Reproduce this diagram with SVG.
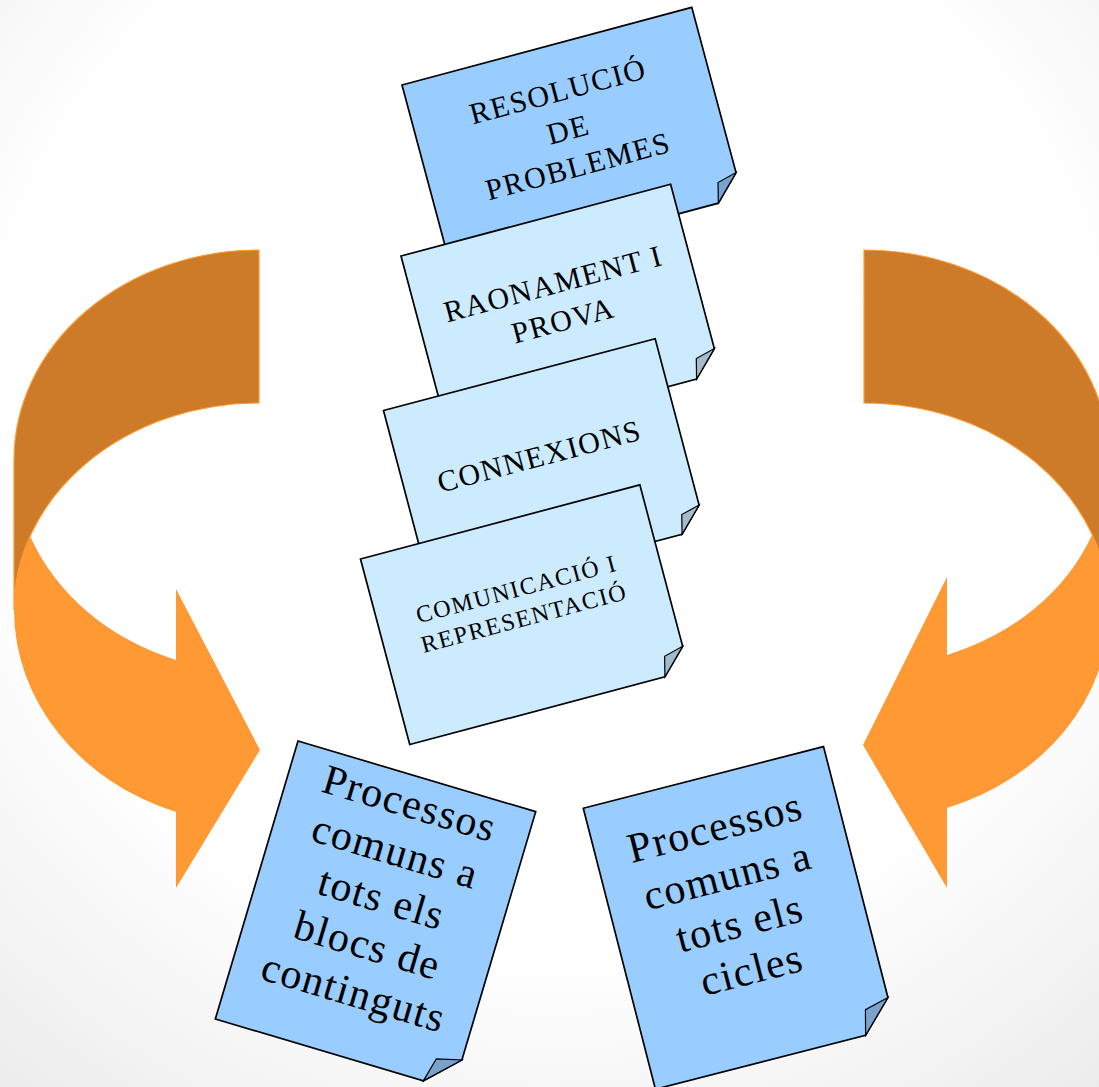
<svg xmlns="http://www.w3.org/2000/svg" width="1099" height="1087" viewBox="0 0 1099 1087">
  <defs>
    <radialGradient id="bg" cx="50%" cy="38%" r="80%">
      <stop offset="0.62" stop-color="#FFFFFF"/>
      <stop offset="1" stop-color="#ECECEC"/>
    </radialGradient>
  </defs>
  <style>
    .page { stroke: #000; stroke-width: 1.7; stroke-linejoin: miter; }
    .blue { fill: #99CCFF; }
    .pale { fill: #CCEBFF; }
    .foldBlue { fill: #7AA3CC; stroke: #000; stroke-width: 1.2; }
    .foldPale { fill: #A3BCCC; stroke: #000; stroke-width: 1.2; }
    .t { font-family: "Liberation Serif", serif; fill: #000; text-anchor: middle; }
    .caps { font-size: 30px; letter-spacing: 1.5px; }
    .small { font-size: 24px; letter-spacing: 1.6px; }
    .big { font-size: 42px; letter-spacing: 1.5px; }
    .back { fill: #CD7B29; stroke: #FF9933; stroke-width: 1.2; }
    .front { fill: #FF9933; }
  </style>
  <rect x="0" y="0" width="1099" height="1087" fill="url(#bg)"/>

  <g id="connectors">
    <g id="arrow-left">
      <path class="back" d="M259,250 A245,210 0 0 0 14,460 L14,610 A245,207 0 0 1 259,403 Z"/>
      <path class="front" d="M14,610 A245,215 0 0 0 176,812 L176,888 L260,750 L176,589 L176,660 A245,215 0 0 1 30,536 A245,207 0 0 0 14,610 Z"/>
    </g>
    <g id="arrow-right">
      <path class="back" d="M864,250 A245,210 0 0 1 1109,460 L1109,610 A245,207 0 0 0 864,403 Z"/>
      <path class="front" d="M1109,610 A245,210 0 0 1 947,808 L947,888 L863,745 L947,577 L947,655 A245,207 0 0 0 1092,535 A245,207 0 0 1 1109,610 Z"/>
    </g>
  </g>

  <g id="node-resolucio" transform="translate(402,85) rotate(-15)">
    <path class="page blue" d="M0,0 H300 V171 L275,196 H0 Z"/>
    <path class="foldBlue" d="M275,196 L280,176 L300,171 Z"/>
    <text class="t caps" x="149" y="56.5">RESOLUCIÓ</text>
    <text class="t caps" x="149" y="96">DE</text>
    <text class="t caps" x="149" y="134">PROBLEMES</text>
  </g>

  <g id="node-raonament" transform="translate(401,256) rotate(-14.9)">
    <path class="page pale" d="M0,0 H279 V170 L254,195 H0 Z"/>
    <path class="foldPale" d="M254,195 L259,175 L279,170 Z"/>
    <text class="t caps" x="140" y="76">RAONAMENT I</text>
    <text class="t caps" x="140" y="114">PROVA</text>
  </g>

  <g id="node-connexions" transform="translate(383.5,410.5) rotate(-14.8)">
    <path class="page pale" d="M0,0 H281 V172 L257,196 H0 Z"/>
    <path class="foldPale" d="M257,196 L261.8,176.8 L281,172 Z"/>
    <text class="t caps" x="139" y="94">CONNEXIONS</text>
  </g>

  <g id="node-comunicacio" transform="translate(360.5,559) rotate(-14.86)">
    <path class="page pale" d="M0,0 H289 V167 L264,192 H0 Z"/>
    <path class="foldPale" d="M264,192 L269,172 L289,167 Z"/>
    <text class="t small" x="143" y="77">COMUNICACIÓ I</text>
    <text class="t small" x="143" y="107">REPRESENTACIÓ</text>
  </g>

  <g id="node-blocs" transform="translate(298,741) rotate(16.56)">
    <path class="page blue" d="M0,0 H248 V259 L217,290 H0 Z"/>
    <path class="foldBlue" d="M217,290 L223.2,265.2 L248,259 Z"/>
    <text class="t big" x="125" y="42">Processos</text>
    <text class="t big" x="125" y="92">comuns a</text>
    <text class="t big" x="125" y="141">tots els</text>
    <text class="t big" x="125" y="190">blocs de</text>
    <text class="t big" x="125" y="239">continguts</text>
  </g>

  <g id="node-cicles" transform="translate(583.3,808.3) rotate(-14.4)">
    <path class="page blue" d="M0,0 H248 V259 L217,290 H0 Z"/>
    <path class="foldBlue" d="M217,290 L223.2,265.2 L248,259 Z"/>
    <text class="t big" x="123" y="65">Processos</text>
    <text class="t big" x="123" y="115">comuns a</text>
    <text class="t big" x="123" y="164">tots els</text>
    <text class="t big" x="123" y="212">cicles</text>
  </g>
</svg>
